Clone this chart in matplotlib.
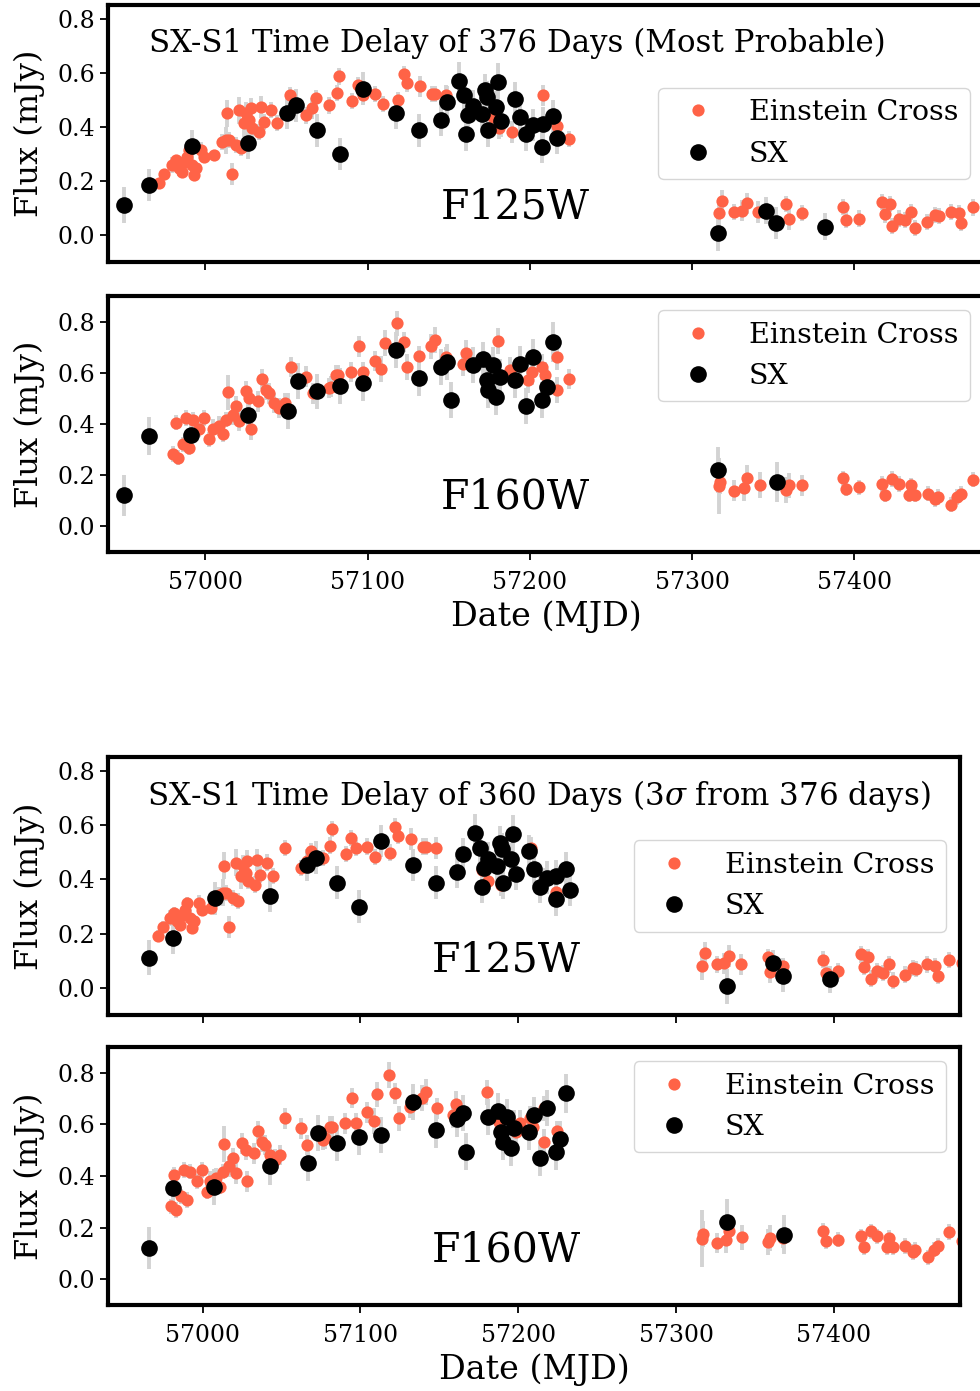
import numpy as np
import matplotlib.pyplot as plt

plt.rcParams["font.family"] = "serif"
plt.rcParams["font.serif"] = ["DejaVu Serif"]
plt.rcParams["mathtext.fontset"] = "dejavuserif"

# ---- Einstein Cross light curves (MJD, flux mJy, error) ----
ec125_t = [56971.6, 56974.7, 56979.6, 56982.1, 56984.0, 56985.8, 56987.0, 56988.9,
           56990.1, 56992.0, 56993.2, 56994.4, 56997.5, 56999.4, 57005.6, 57010.5,
           57013.0, 57013.6, 57014.8, 57016.7, 57019.1, 57021.0, 57022.2, 57024.1,
           57025.3, 57027.2, 57028.4, 57029.0, 57033.3, 57034.6, 57036.4, 57040.7,
           57044.4, 57051.9, 57062.3, 57066.0, 57068.5, 57076.5, 57080.9, 57082.1,
           57090.7, 57093.8, 57096.9, 57104.3, 57109.3, 57118.5, 57122.2, 57124.1,
           57132.1, 57139.5, 57141.4, 57148.1, 57177.2, 57180.9, 57188.9, 57208.0,
           57216.7, 57224.1,
           57316.7, 57318.3, 57326.1, 57330.7, 57333.8, 57340.9, 57358.0, 57359.5,
           57367.7, 57393.0, 57395.0, 57402.7, 57417.1, 57419.1, 57421.8, 57423.3,
           57427.4, 57431.5, 57435.2, 57437.7, 57444.9, 57450.0, 57452.0, 57459.3,
           57464.4, 57465.9, 57473.3, 57481.0]
ec125_f = [0.192, 0.225, 0.258, 0.276, 0.247, 0.232, 0.269, 0.288,
           0.313, 0.258, 0.221, 0.247, 0.313, 0.288, 0.295, 0.343,
           0.350, 0.450, 0.350, 0.225, 0.332, 0.461, 0.321, 0.413,
           0.450, 0.424, 0.468, 0.394, 0.380, 0.472, 0.417, 0.461,
           0.413, 0.516, 0.442, 0.468, 0.505, 0.479, 0.524, 0.586,
           0.494, 0.553, 0.516, 0.520, 0.483, 0.498, 0.594, 0.560,
           0.549, 0.520, 0.520, 0.516, 0.435, 0.394, 0.380, 0.516,
           0.402, 0.354,
           0.080, 0.127, 0.086, 0.090, 0.117, 0.086, 0.114, 0.059,
           0.080, 0.104, 0.055, 0.061, 0.123, 0.076, 0.114, 0.034,
           0.061, 0.055, 0.086, 0.027, 0.049, 0.074, 0.070, 0.086,
           0.080, 0.045, 0.102, 0.092]
ec125_e = [0.02, 0.02, 0.03, 0.02, 0.03, 0.02, 0.02, 0.03,
           0.02, 0.03, 0.02, 0.02, 0.03, 0.02, 0.02, 0.03,
           0.05, 0.05, 0.03, 0.04, 0.03, 0.05, 0.03, 0.05,
           0.04, 0.03, 0.04, 0.03, 0.03, 0.04, 0.03, 0.03,
           0.03, 0.03, 0.03, 0.04, 0.03, 0.03, 0.03, 0.03,
           0.03, 0.03, 0.03, 0.03, 0.03, 0.03, 0.03, 0.03,
           0.04, 0.03, 0.03, 0.04, 0.04, 0.04, 0.04, 0.04,
           0.04, 0.03,
           0.05, 0.04, 0.03, 0.04, 0.04, 0.04, 0.03, 0.04,
           0.03, 0.03, 0.03, 0.03, 0.03, 0.03, 0.03, 0.03,
           0.03, 0.03, 0.03, 0.03, 0.03, 0.03, 0.03, 0.03,
           0.03, 0.03, 0.03, 0.03]

ec160_t = [56979.8, 56981.9, 56982.9, 56986.0, 56988.1, 56990.1, 56992.2, 56996.3,
           56999.4, 57002.5, 57004.5, 57008.6, 57010.7, 57012.8, 57013.8, 57016.9,
           57019.0, 57021.0, 57025.1, 57027.2, 57028.2, 57032.3, 57035.0, 57037.5,
           57039.5, 57042.6, 57045.7, 57048.8, 57052.5, 57062.2, 57066.3, 57076.5,
           57077.6, 57080.7, 57081.7, 57089.9, 57094.6, 57097.1, 57104.3, 57108.5,
           57110.5, 57118.3, 57122.2, 57124.3, 57131.7, 57139.3, 57141.4, 57148.6,
           57158.8, 57160.5, 57180.4, 57187.7, 57198.9, 57201.1, 57207.2, 57209.3,
           57216.5, 57216.5, 57224.3,
           57316.7, 57317.3, 57326.1, 57331.7, 57333.8, 57341.6, 57358.0, 57359.5,
           57367.7, 57393.0, 57395.0, 57402.7, 57417.1, 57419.1, 57423.3, 57427.4,
           57433.5, 57435.2, 57437.7, 57445.3, 57450.0, 57451.4, 57459.7, 57463.4,
           57465.9, 57473.3, 57481.0]
ec160_f = [0.282, 0.405, 0.269, 0.321, 0.424, 0.308, 0.417, 0.379,
           0.424, 0.340, 0.379, 0.392, 0.359, 0.417, 0.523, 0.437,
           0.469, 0.411, 0.527, 0.501, 0.379, 0.488, 0.575, 0.533,
           0.520, 0.482, 0.463, 0.482, 0.623, 0.585, 0.520, 0.540,
           0.546, 0.591, 0.591, 0.604, 0.703, 0.604, 0.647, 0.614,
           0.716, 0.793, 0.720, 0.623, 0.666, 0.703, 0.727, 0.662,
           0.636, 0.678, 0.724, 0.611, 0.572, 0.604, 0.623, 0.591,
           0.662, 0.533, 0.575,
           0.157, 0.175, 0.140, 0.151, 0.188, 0.162, 0.143, 0.160,
           0.160, 0.188, 0.147, 0.153, 0.166, 0.124, 0.185, 0.166,
           0.124, 0.160, 0.124, 0.128, 0.106, 0.115, 0.085, 0.115,
           0.128, 0.183, 0.148]
ec160_e = [0.03, 0.03, 0.03, 0.03, 0.03, 0.03, 0.03, 0.03,
           0.03, 0.03, 0.04, 0.04, 0.03, 0.03, 0.07, 0.04,
           0.04, 0.04, 0.04, 0.04, 0.04, 0.04, 0.04, 0.04,
           0.04, 0.04, 0.04, 0.04, 0.04, 0.04, 0.04, 0.04,
           0.04, 0.04, 0.04, 0.04, 0.04, 0.04, 0.04, 0.05,
           0.05, 0.05, 0.04, 0.05, 0.04, 0.05, 0.05, 0.04,
           0.05, 0.05, 0.05, 0.05, 0.05, 0.05, 0.05, 0.05,
           0.05, 0.05, 0.04,
           0.11, 0.05, 0.04, 0.05, 0.05, 0.05, 0.05, 0.05,
           0.04, 0.03, 0.03, 0.03, 0.03, 0.03, 0.03, 0.03,
           0.03, 0.03, 0.03, 0.03, 0.03, 0.03, 0.03, 0.03,
           0.03, 0.03, 0.03]

# ---- SX light curves, shifted by the 376 day delay ----
sx125_t = [56950.0, 56965.0, 56992.0, 57026.5, 57050.4, 57055.6, 57069.0, 57083.3,
           57097.0, 57117.3, 57131.7, 57145.5, 57149.2, 57156.4, 57159.5, 57160.9,
           57162.0, 57165.0, 57170.8, 57172.2, 57173.9, 57174.3, 57179.4, 57180.4,
           57182.5, 57190.7, 57193.8, 57197.5, 57202.0, 57208.2, 57207.8, 57214.0,
           57216.9, 57316.2, 57345.7, 57351.9, 57381.7]
sx125_f = [0.111, 0.184, 0.329, 0.340, 0.452, 0.479, 0.387, 0.299,
           0.541, 0.452, 0.387, 0.426, 0.491, 0.571, 0.516, 0.372,
           0.442, 0.476, 0.449, 0.535, 0.510, 0.387, 0.473, 0.565,
           0.421, 0.504, 0.436, 0.372, 0.406, 0.412, 0.326, 0.439,
           0.360, 0.006, 0.090, 0.045, 0.031]
sx125_e = [0.065, 0.06, 0.06, 0.06, 0.06, 0.06, 0.06, 0.06,
           0.06, 0.06, 0.06, 0.06, 0.06, 0.07, 0.06, 0.06,
           0.06, 0.06, 0.06, 0.06, 0.06, 0.06, 0.06, 0.07,
           0.06, 0.06, 0.06, 0.06, 0.06, 0.06, 0.06, 0.06,
           0.06, 0.065, 0.05, 0.06, 0.05]

sx160_t = [56950.0, 56965.0, 56991.2, 57026.5, 57050.8, 57057.4, 57068.9, 57083.3,
           57097.1, 57117.3, 57131.7, 57145.5, 57149.2, 57151.2, 57165.0, 57171.2,
           57173.3, 57174.3, 57177.0, 57179.4, 57181.5, 57190.7, 57193.8, 57197.5,
           57202.0, 57207.8, 57210.3, 57214.0, 57316.2, 57352.3]
sx160_f = [0.121, 0.353, 0.357, 0.437, 0.452, 0.568, 0.527, 0.550,
           0.559, 0.688, 0.578, 0.621, 0.643, 0.495, 0.630, 0.652,
           0.572, 0.533, 0.630, 0.507, 0.585, 0.572, 0.636, 0.471,
           0.662, 0.495, 0.544, 0.720, 0.220, 0.173]
sx160_e = [0.08, 0.075, 0.07, 0.07, 0.07, 0.07, 0.07, 0.07,
           0.07, 0.07, 0.07, 0.07, 0.07, 0.07, 0.07, 0.07,
           0.07, 0.07, 0.07, 0.07, 0.07, 0.07, 0.07, 0.07,
           0.07, 0.07, 0.07, 0.077, 0.09, 0.077]

delays = [376, 360]
titles = ["SX-S1 Time Delay of 376 Days (Most Probable)",
          r"SX-S1 Time Delay of 360 Days ($3\sigma$ from 376 days)"]
filters = ["F125W", "F160W"]

EC_COLOR = "tomato"
ERR_COLOR = "lightgray"

fig = plt.figure(figsize=(9.8, 13.91), dpi=100)

# [left, bottom, width, height] for each panel (figure fraction)
positions = [
    [[0.1102, 0.8116, 0.894, 0.1848], [0.1102, 0.6032, 0.894, 0.1840]],
    [[0.1102, 0.2703, 0.8694, 0.1855], [0.1102, 0.0618, 0.8694, 0.1855]],
]

for k, delay in enumerate(delays):
    shift = delays[0] - delay
    for j, filt in enumerate(filters):
        ax = fig.add_axes(positions[k][j])
        if filt == "F125W":
            ect, ecf, ece = ec125_t, ec125_f, ec125_e
            sxt, sxf, sxe = sx125_t, sx125_f, sx125_e
            ylim = (-0.1, 0.85)
            loc = "center right"
            lab_y = 0.06
        else:
            ect, ecf, ece = ec160_t, ec160_f, ec160_e
            sxt, sxf, sxe = sx160_t, sx160_f, sx160_e
            ylim = (-0.1, 0.9)
            loc = "upper right"
            lab_y = 0.07
        sxt = np.array(sxt) + shift

        ax.errorbar(ect, ecf, yerr=ece, fmt="none", ecolor=ERR_COLOR,
                    elinewidth=2.8, zorder=1)
        ax.errorbar(sxt, sxf, yerr=sxe, fmt="none", ecolor=ERR_COLOR,
                    elinewidth=2.8, zorder=1)
        ax.plot(ect, ecf, "o", color=EC_COLOR, markersize=8.8,
                markeredgewidth=0, label="Einstein Cross", zorder=2)
        ax.plot(sxt, sxf, "o", color="black", markersize=12,
                markeredgewidth=0, label="SX", zorder=3)

        ax.set_xlim(56940, 57480)
        ax.set_ylim(*ylim)
        ax.set_yticks([0.0, 0.2, 0.4, 0.6, 0.8])
        ax.set_xticks([57000, 57100, 57200, 57300, 57400])
        ax.tick_params(labelsize=17, length=6, width=1.3)
        ax.tick_params(axis="x", pad=7.5)
        for sp in ax.spines.values():
            sp.set_linewidth(3)
        ax.set_ylabel("Flux (mJy)", fontsize=23, labelpad=9)
        ax.text(57145, lab_y, filt, fontsize=29.5)
        ax.legend(loc=loc, fontsize=20.5)
        if j == 0:
            ax.text(56965, 0.675, titles[k], fontsize=22.2)
            ax.tick_params(labelbottom=False)
        else:
            ax.set_xlabel("Date (MJD)", fontsize=24, labelpad=5)

fig.savefig("out.png", dpi=100)
